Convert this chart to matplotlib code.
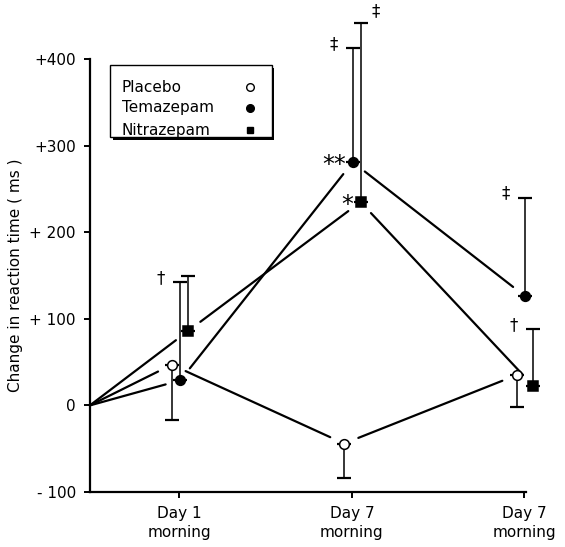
import matplotlib.pyplot as plt
from matplotlib.patches import Rectangle

# categories and values (ms change in reaction time)
days = ["Day 1\nmorning", "Day 7\nmorning", "Day 7\nmorning"]
day_pos = [0.52, 1.52, 2.52]

placebo = [47, -44, 35]
placebo_err_to = [-17, -84, -2]      # bars go downward
temazepam = [29, 281, 126]
temazepam_err_to = [142, 413, 240]
nitrazepam = [86, 235, 23]
nitrazepam_err_to = [150, 442, 88]

yticks = [-100, 0, 100, 200, 300, 400]
ytick_labels = ["- 100", "0", "+ 100", "+ 200", "+300", "+400"]

legend_labels = ["Placebo", "Temazepam", "Nitrazepam"]

# (series, day index, symbol, side)
bar_marks = [("tem", 0, "\u2020", "left"),
             ("tem", 1, "\u2021", "left"),
             ("nit", 1, "\u2021", "right"),
             ("tem", 2, "\u2021", "left"),
             ("nit", 2, "\u2020", "left")]
point_marks = [("tem", 1, "**"), ("nit", 1, "*")]

fig = plt.figure(figsize=(5.65, 5.47), dpi=100)
ax = fig.add_axes([0.159, 0.1005, 0.772, 0.7915])
ax.set_xlim(0, 2.53)
ax.set_ylim(-100, 400)

series = {
    "pla": dict(vals=placebo, err=placebo_err_to, dx=-0.045, mfc="white", marker="o", ms=7),
    "tem": dict(vals=temazepam, err=temazepam_err_to, dx=0.005, mfc="black", marker="o", ms=7),
    "nit": dict(vals=nitrazepam, err=nitrazepam_err_to, dx=0.05, mfc="black", marker="s", ms=6.5),
}

for key, s in series.items():
    xs = [p + s["dx"] for p in day_pos]
    # joining lines, stopped short of the markers
    pts = [(0, 0)] + list(zip(xs, s["vals"]))
    for i in range(len(pts) - 1):
        ax.annotate("", xy=pts[i + 1], xytext=pts[i],
                    arrowprops=dict(arrowstyle="-", lw=1.6, color="black",
                                    shrinkA=0 if i == 0 else 11, shrinkB=11),
                    annotation_clip=False)
    # one sided error bars
    for x, v, e in zip(xs, s["vals"], s["err"]):
        if e > v:
            yerr = [[0], [e - v]]
        else:
            yerr = [[v - e], [0]]
        ax.errorbar([x], [v], yerr=yerr, fmt="none", ecolor="black",
                    elinewidth=1.1, capsize=5, capthick=1.6, clip_on=False)
    ax.plot(xs, s["vals"], linestyle="none", marker=s["marker"], ms=s["ms"],
            mfc=s["mfc"], mec="black", mew=1.1, clip_on=False, zorder=5)

for key, d, sym, side in bar_marks:
    s = series[key]
    x = day_pos[d] + s["dx"]
    y = s["err"][d]
    off = (-14, 3) if side == "left" else (11, 8)
    ax.annotate(sym, (x, y), xytext=off, textcoords="offset points",
                ha="center", va="center", fontsize=12, annotation_clip=False)

for key, d, sym in point_marks:
    s = series[key]
    x = day_pos[d] + s["dx"]
    y = s["vals"][d]
    ax.annotate(sym, (x, y), xytext=(-5, -2), textcoords="offset points",
                ha="right", va="center", fontsize=17, annotation_clip=False)

ax.spines["top"].set_visible(False)
ax.spines["right"].set_visible(False)
ax.spines["left"].set_linewidth(1.6)
ax.spines["bottom"].set_linewidth(1.6)
ax.set_xticks(day_pos)
ax.set_xticklabels(days, fontsize=11, linespacing=1.3)
ax.set_yticks(yticks)
ax.set_yticklabels(ytick_labels, fontsize=11)
ax.tick_params(direction="out", length=4, width=1.4, pad=6)
ax.set_ylabel("Change in reaction time ( ms )", fontsize=11, labelpad=5)

# legend box drawn by hand: text on the left, markers on the right,
# with a dark offset copy behind it as the drop shadow
ax.add_patch(Rectangle((0.052, 0.814), 0.371, 0.166, transform=ax.transAxes,
                       facecolor="black", edgecolor="none", zorder=5.9))
ax.add_patch(Rectangle((0.046, 0.82), 0.371, 0.166, transform=ax.transAxes,
                       facecolor="white", edgecolor="black", lw=1.0, zorder=6))
row_y = [0.935, 0.887, 0.836]
leg_marker = [("o", "white", 5.5), ("o", "black", 5.5), ("s", "black", 5)]
for lab, yy, (m, fc, ms) in zip(legend_labels, row_y, leg_marker):
    ax.text(0.073, yy, lab, transform=ax.transAxes, fontsize=11,
            ha="left", va="center", zorder=7)
    ax.plot([0.367], [yy], transform=ax.transAxes, linestyle="none", marker=m,
            ms=ms, mfc=fc, mec="black", mew=1.0, zorder=7, clip_on=False)

fig.savefig("out.png", dpi=100)
